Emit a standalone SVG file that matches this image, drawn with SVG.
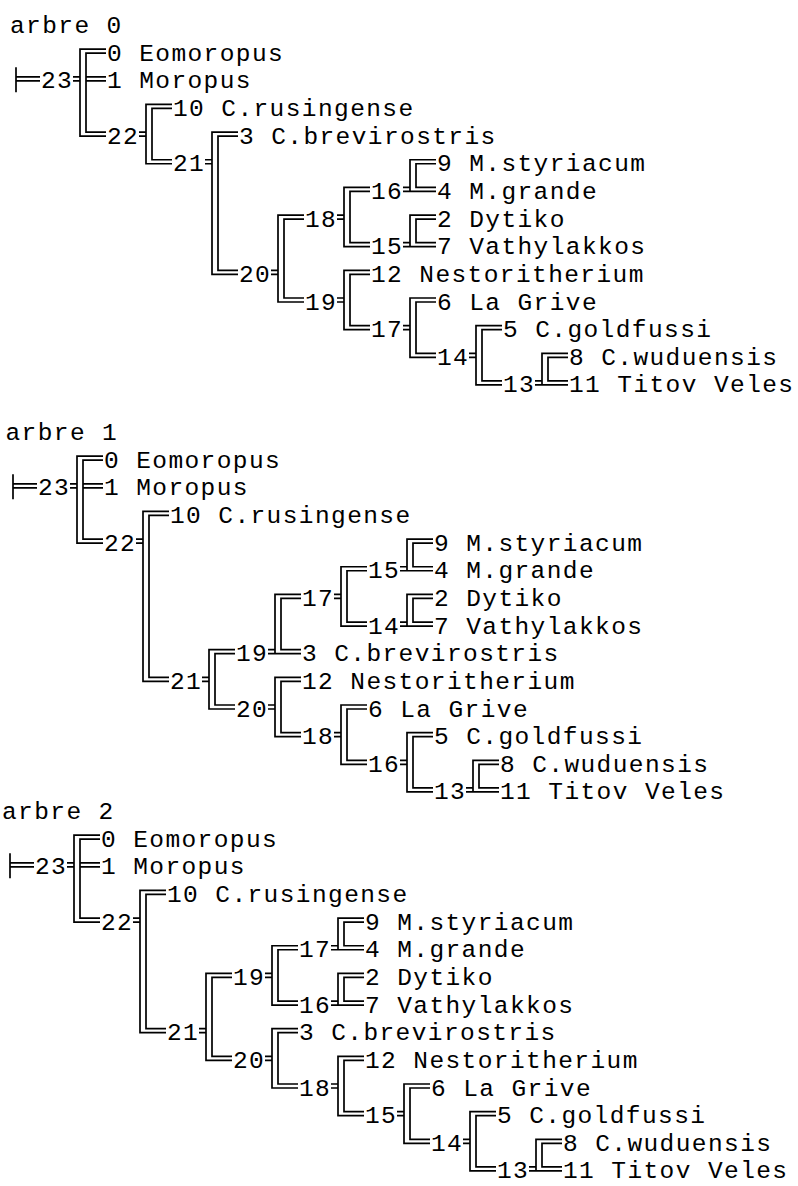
<svg xmlns="http://www.w3.org/2000/svg" width="798" height="1186" viewBox="0 0 798 1186">
<style>
text{font-family:"Liberation Mono","DejaVu Sans Mono",monospace;font-size:24.5px;letter-spacing:1.4px;fill:#000}
path{fill:none;stroke:#000;stroke-width:1.7}
</style>
<rect width="798" height="1186" fill="#fff"/>
<defs>
<path id="root" d="M-27,42.3V67.3M-27,51.8H-3M-27,55.8H-3"/>
<path id="n23" d="M63,24.15H37V111.1H63M63,28.15H43V107.1H63M43,51.8H63M43,55.8H63M30,51.8H37M30,55.8H37"/>
</defs>

<!-- ===== arbre 0 ===== -->
<g id="tree0" transform="translate(43,25)">
<g class="c" id="tree0-connectors">
<use href="#root"/>
<use href="#n23"/>
<path d="M129,79.45H103V138.75H129M129,83.45H109V134.75H129M96,107.1H103M96,111.1H103"/>
<path d="M195,107.1H169V249.35H195M195,111.1H175V245.35H195M162,134.75H169M162,138.75H169"/>
<path d="M261,190.05H235V277H261M261,194.05H241V273H261M228,245.35H235M228,249.35H235"/>
<path d="M327,162.4H301V221.7H327M327,166.4H307V217.7H327M294,190.05H301M294,194.05H301"/>
<path d="M393,134.75H367V166.4H393M393,138.75H373V162.4H393M360,162.4H367M360,166.4H367"/>
<path d="M393,190.05H367V221.7H393M393,194.05H373V217.7H393M360,217.7H367M360,221.7H367"/>
<path d="M327,245.35H301V304.65H327M327,249.35H307V300.65H327M294,273H301M294,277H301"/>
<path d="M393,273H367V332.3H393M393,277H373V328.3H393M360,300.65H367M360,304.65H367"/>
<path d="M459,300.65H433V359.95H459M459,304.65H439V355.95H459M426,328.3H433M426,332.3H433"/>
<path d="M525,328.3H499V359.95H525M525,332.3H505V355.95H525M492,355.95H499M492,359.95H499"/>
</g>
<g id="tree0-title"><text x="-33" y="8">arbre 0</text></g>
<g id="tree0-n23"><text x="-2" y="63.3">23</text></g>
<g id="tree0-leaf0"><text x="64" y="35.65">0 Eomoropus</text></g>
<g id="tree0-leaf1"><text x="64" y="63.3">1 Moropus</text></g>
<g id="tree0-n22"><text x="64" y="118.6">22</text></g>
<g id="tree0-leaf10"><text x="130" y="90.95">10 C.rusingense</text></g>
<g id="tree0-n21"><text x="130" y="146.25">21</text></g>
<g id="tree0-leaf3"><text x="196" y="118.6">3 C.brevirostris</text></g>
<g id="tree0-n20"><text x="196" y="256.85">20</text></g>
<g id="tree0-n18"><text x="262" y="201.55">18</text></g>
<g id="tree0-n19"><text x="262" y="284.5">19</text></g>
<g id="tree0-n16"><text x="328" y="173.9">16</text></g>
<g id="tree0-n15"><text x="328" y="229.2">15</text></g>
<g id="tree0-leaf12"><text x="328" y="256.85">12 Nestoritherium</text></g>
<g id="tree0-n17"><text x="328" y="312.15">17</text></g>
<g id="tree0-leaf9"><text x="394" y="146.25">9 M.styriacum</text></g>
<g id="tree0-leaf4"><text x="394" y="173.9">4 M.grande</text></g>
<g id="tree0-leaf2"><text x="394" y="201.55">2 Dytiko</text></g>
<g id="tree0-leaf7"><text x="394" y="229.2">7 Vathylakkos</text></g>
<g id="tree0-leaf6"><text x="394" y="284.5">6 La Grive</text></g>
<g id="tree0-n14"><text x="394" y="339.8">14</text></g>
<g id="tree0-leaf5"><text x="460" y="312.15">5 C.goldfussi</text></g>
<g id="tree0-n13"><text x="460" y="367.45">13</text></g>
<g id="tree0-leaf8"><text x="526" y="339.8">8 C.wuduensis</text></g>
<g id="tree0-leaf11"><text x="526" y="367.45">11 Titov Veles</text></g>
</g>

<!-- ===== arbre 1 ===== -->
<g id="tree1" transform="translate(40,432)">
<g class="c" id="tree1-connectors">
<use href="#root"/>
<use href="#n23"/>
<path d="M129,79.45H103V249.35H129M129,83.45H109V245.35H129M96,107.1H103M96,111.1H103"/>
<path d="M195,217.7H169V277H195M195,221.7H175V273H195M162,245.35H169M162,249.35H169"/>
<path d="M261,162.4H235V221.7H261M261,166.4H241V217.7H261M228,217.7H235M228,221.7H235"/>
<path d="M327,134.75H301V194.05H327M327,138.75H307V190.05H327M294,162.4H301M294,166.4H301"/>
<path d="M393,107.1H367V138.75H393M393,111.1H373V134.75H393M360,134.75H367M360,138.75H367"/>
<path d="M393,162.4H367V194.05H393M393,166.4H373V190.05H393M360,190.05H367M360,194.05H367"/>
<path d="M261,245.35H235V304.65H261M261,249.35H241V300.65H261M228,273H235M228,277H235"/>
<path d="M327,273H301V332.3H327M327,277H307V328.3H327M294,300.65H301M294,304.65H301"/>
<path d="M393,300.65H367V359.95H393M393,304.65H373V355.95H393M360,328.3H367M360,332.3H367"/>
<path d="M459,328.3H433V359.95H459M459,332.3H439V355.95H459M426,355.95H433M426,359.95H433"/>
</g>
<g id="tree1-title"><text x="-34.5" y="8">arbre 1</text></g>
<g id="tree1-n23"><text x="-2" y="63.3">23</text></g>
<g id="tree1-leaf0"><text x="64" y="35.65">0 Eomoropus</text></g>
<g id="tree1-leaf1"><text x="64" y="63.3">1 Moropus</text></g>
<g id="tree1-n22"><text x="64" y="118.6">22</text></g>
<g id="tree1-leaf10"><text x="130" y="90.95">10 C.rusingense</text></g>
<g id="tree1-n21"><text x="130" y="256.85">21</text></g>
<g id="tree1-n19"><text x="196" y="229.2">19</text></g>
<g id="tree1-n20"><text x="196" y="284.5">20</text></g>
<g id="tree1-n17"><text x="262" y="173.9">17</text></g>
<g id="tree1-leaf3"><text x="262" y="229.2">3 C.brevirostris</text></g>
<g id="tree1-leaf12"><text x="262" y="256.85">12 Nestoritherium</text></g>
<g id="tree1-n18"><text x="262" y="312.15">18</text></g>
<g id="tree1-n15"><text x="328" y="146.25">15</text></g>
<g id="tree1-n14"><text x="328" y="201.55">14</text></g>
<g id="tree1-leaf6"><text x="328" y="284.5">6 La Grive</text></g>
<g id="tree1-n16"><text x="328" y="339.8">16</text></g>
<g id="tree1-leaf9"><text x="394" y="118.6">9 M.styriacum</text></g>
<g id="tree1-leaf4"><text x="394" y="146.25">4 M.grande</text></g>
<g id="tree1-leaf2"><text x="394" y="173.9">2 Dytiko</text></g>
<g id="tree1-leaf7"><text x="394" y="201.55">7 Vathylakkos</text></g>
<g id="tree1-leaf5"><text x="394" y="312.15">5 C.goldfussi</text></g>
<g id="tree1-n13"><text x="394" y="367.45">13</text></g>
<g id="tree1-leaf8"><text x="460" y="339.8">8 C.wuduensis</text></g>
<g id="tree1-leaf11"><text x="460" y="367.45">11 Titov Veles</text></g>
</g>

<!-- ===== arbre 2 ===== -->
<g id="tree2" transform="translate(37,811)">
<g class="c" id="tree2-connectors">
<use href="#root"/>
<use href="#n23"/>
<path d="M129,79.45H103V221.7H129M129,83.45H109V217.7H129M96,107.1H103M96,111.1H103"/>
<path d="M195,162.4H169V249.35H195M195,166.4H175V245.35H195M162,217.7H169M162,221.7H169"/>
<path d="M261,134.75H235V194.05H261M261,138.75H241V190.05H261M228,162.4H235M228,166.4H235"/>
<path d="M327,107.1H301V138.75H327M327,111.1H307V134.75H327M294,134.75H301M294,138.75H301"/>
<path d="M327,162.4H301V194.05H327M327,166.4H307V190.05H327M294,190.05H301M294,194.05H301"/>
<path d="M261,217.7H235V277H261M261,221.7H241V273H261M228,245.35H235M228,249.35H235"/>
<path d="M327,245.35H301V304.65H327M327,249.35H307V300.65H327M294,273H301M294,277H301"/>
<path d="M393,273H367V332.3H393M393,277H373V328.3H393M360,300.65H367M360,304.65H367"/>
<path d="M459,300.65H433V359.95H459M459,304.65H439V355.95H459M426,328.3H433M426,332.3H433"/>
<path d="M525,328.3H499V359.95H525M525,332.3H505V355.95H525M492,355.95H499M492,359.95H499"/>
</g>
<g id="tree2-title"><text x="-35" y="8">arbre 2</text></g>
<g id="tree2-n23"><text x="-2" y="63.3">23</text></g>
<g id="tree2-leaf0"><text x="64" y="35.65">0 Eomoropus</text></g>
<g id="tree2-leaf1"><text x="64" y="63.3">1 Moropus</text></g>
<g id="tree2-n22"><text x="64" y="118.6">22</text></g>
<g id="tree2-leaf10"><text x="130" y="90.95">10 C.rusingense</text></g>
<g id="tree2-n21"><text x="130" y="229.2">21</text></g>
<g id="tree2-n19"><text x="196" y="173.9">19</text></g>
<g id="tree2-n20"><text x="196" y="256.85">20</text></g>
<g id="tree2-n17"><text x="262" y="146.25">17</text></g>
<g id="tree2-n16"><text x="262" y="201.55">16</text></g>
<g id="tree2-leaf3"><text x="262" y="229.2">3 C.brevirostris</text></g>
<g id="tree2-n18"><text x="262" y="284.5">18</text></g>
<g id="tree2-leaf9"><text x="328" y="118.6">9 M.styriacum</text></g>
<g id="tree2-leaf4"><text x="328" y="146.25">4 M.grande</text></g>
<g id="tree2-leaf2"><text x="328" y="173.9">2 Dytiko</text></g>
<g id="tree2-leaf7"><text x="328" y="201.55">7 Vathylakkos</text></g>
<g id="tree2-leaf12"><text x="328" y="256.85">12 Nestoritherium</text></g>
<g id="tree2-n15"><text x="328" y="312.15">15</text></g>
<g id="tree2-leaf6"><text x="394" y="284.5">6 La Grive</text></g>
<g id="tree2-n14"><text x="394" y="339.8">14</text></g>
<g id="tree2-leaf5"><text x="460" y="312.15">5 C.goldfussi</text></g>
<g id="tree2-n13"><text x="460" y="367.45">13</text></g>
<g id="tree2-leaf8"><text x="526" y="339.8">8 C.wuduensis</text></g>
<g id="tree2-leaf11"><text x="526" y="367.45">11 Titov Veles</text></g>
</g>
</svg>
